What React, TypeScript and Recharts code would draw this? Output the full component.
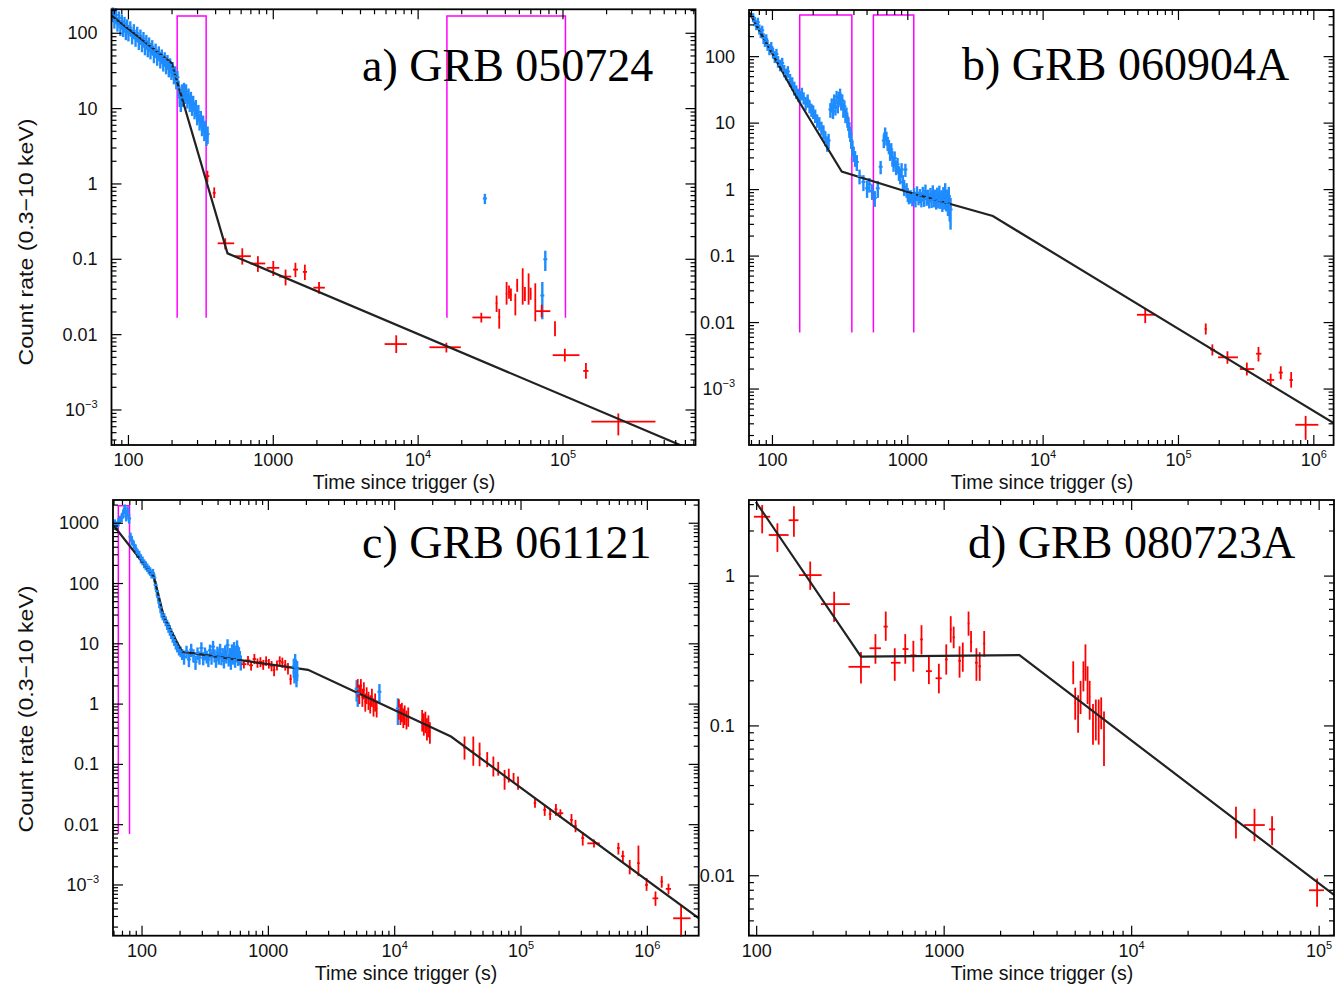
import { ComposedChart, XAxis, YAxis, Line, Scatter, ErrorBar } from 'recharts';

const BLUE = '#1e8cff';
const RED = '#ff0000';
const MAGENTA = '#ff00ff';
const MODEL = '#222222';
const SANS = '"Liberation Sans", Arial, sans-serif';
const SERIF = '"Liberation Serif", "Times New Roman", serif';

// ---- a) GRB 050724 ----
// model: [time, rate] at the break points
const modelA = [[76, 173], [199, 40], [483, 0.12], [7.0e5, 3.2e-4]];
// WT data: [time, rate, rate error]
const blueA = [
  [78, 180, 40], [80, 150, 35], [82, 175, 40], [84, 135, 30], [86, 160, 35], [88, 120, 28],
  [90, 145, 32], [92, 115, 26], [94, 135, 30], [96, 105, 24], [98, 125, 28], [100, 100, 22],
  [103, 118, 26], [106, 92, 21], [109, 108, 24], [112, 85, 19], [115, 100, 22], [118, 78, 18],
  [121, 92, 20], [124, 72, 16], [127, 85, 19], [130, 66, 15], [133, 78, 17], [136, 62, 14],
  [139, 72, 16], [142, 58, 13], [146, 66, 15], [150, 52, 12], [154, 60, 13], [158, 48, 11],
  [162, 55, 12], [166, 44, 10], [170, 50, 11], [174, 40, 9], [178, 46, 10], [182, 37, 8.5],
  [186, 42, 9.5], [190, 34, 8], [194, 38, 8.5], [198, 31, 7], [202, 34, 7.5], [206, 27, 6],
  [210, 30, 6.5], [214, 23, 5], [218, 26, 5.5], [222, 19, 4.5], [226, 14, 3.5], [230, 12, 3],
  [234, 17, 4], [238, 14, 3.5], [242, 18, 4], [246, 15, 3.5], [250, 17, 4], [255, 13, 3],
  [260, 15, 3.5], [265, 12, 3], [270, 13.5, 3.2], [275, 10.5, 2.5], [280, 12, 2.8], [286, 9.5, 2.3],
  [292, 10.5, 2.5], [298, 8, 2], [304, 9, 2.2], [310, 6.8, 1.7], [316, 7.5, 1.8], [322, 5.8, 1.5],
  [328, 6.5, 1.6], [334, 5, 1.3], [340, 5.5, 1.4], [346, 4.3, 1.1], [352, 4.6, 1.2],
  [28900, 0.64, 0.1], [72000, 0.033, 0.017], [75500, 0.1, 0.03],
];
// PC data: [time, time low, time high, rate, rate low, rate high]
const redA = [
  [351, 340, 362, 1.27, 1.05, 1.5], [391, 382, 400, 0.76, 0.65, 0.9],
  [466, 413, 537, 0.163, 0.135, 0.19], [611, 530, 700, 0.11, 0.085, 0.14],
  [783, 690, 880, 0.088, 0.068, 0.11], [1000, 900, 1100, 0.077, 0.06, 0.095],
  [1216, 1100, 1330, 0.059, 0.045, 0.073], [1422, 1370, 1480, 0.073, 0.058, 0.09],
  [1652, 1600, 1710, 0.068, 0.053, 0.085], [2070, 1890, 2270, 0.042, 0.035, 0.05],
  [7060, 5870, 8370, 0.0075, 0.0057, 0.0098], [15670, 11970, 19700, 0.0068, 0.0058, 0.0078],
  [27300, 23700, 31800, 0.0169, 0.0145, 0.0195], [34800, 34300, 35300, 0.026, 0.02, 0.033],
  [36300, 35800, 36800, 0.017, 0.012, 0.022], [40800, 40300, 41300, 0.035, 0.025, 0.05],
  [42400, 41900, 42900, 0.037, 0.03, 0.045], [43700, 43200, 44200, 0.034, 0.028, 0.041],
  [46900, 46400, 47400, 0.029, 0.018, 0.035], [48300, 47800, 48800, 0.045, 0.037, 0.055],
  [52700, 52200, 53200, 0.043, 0.025, 0.076], [54600, 54100, 55100, 0.035, 0.028, 0.043],
  [57900, 57400, 58400, 0.043, 0.025, 0.065], [59800, 59300, 60300, 0.035, 0.029, 0.042],
  [64400, 63900, 64900, 0.029, 0.015, 0.048], [71300, 64500, 81800, 0.0205, 0.017, 0.025],
  [88100, 87600, 88600, 0.0121, 0.0095, 0.015], [103000, 84900, 130000, 0.00534, 0.0044, 0.0065],
  [144000, 138000, 150000, 0.0033, 0.0026, 0.0042], [241000, 157000, 435000, 0.0007, 0.00046, 0.0009],
];
// magenta windows: [start, end]
const boxesA = [[217, 344], [15800, 104000]];
const boxLimitsA = [0.0167, 170];

// ---- b) GRB 060904A ----
const modelB = [[67, 470], [160, 19.9], [325, 1.87], [1000, 0.92], [4250, 0.4], [1.4e6, 3.07e-4]];
const blueB = [
  [72, 390, 60], [74, 340, 55], [76, 300, 50], [78, 330, 55], [80, 260, 45], [82, 230, 40],
  [84, 250, 42], [86, 190, 35], [88, 170, 30], [90, 185, 32], [92, 150, 28], [95, 130, 25],
  [98, 140, 26], [101, 115, 22], [104, 100, 20], [107, 110, 21], [110, 85, 17], [114, 75, 15],
  [118, 80, 16], [122, 62, 13], [126, 55, 11], [130, 60, 12], [135, 45, 10], [140, 40, 9],
  [145, 34, 8], [150, 30, 7], [155, 27, 6], [160, 25, 5.5], [165, 28, 6], [170, 24, 5],
  [176, 20, 4.5], [182, 22, 5], [188, 18, 4], [194, 16, 3.6], [200, 15, 3.5], [207, 13, 3],
  [214, 11, 2.5], [222, 10, 2.3], [230, 8.5, 2], [238, 7.5, 1.8], [246, 6, 1.5], [254, 5, 1.3],
  [260, 5.5, 1.4],
  [268, 16, 4], [274, 19, 4.5], [280, 15, 3.5], [286, 22, 5], [292, 17, 4], [298, 25, 5.5],
  [304, 18, 4], [310, 24, 5.5], [316, 27, 6], [322, 20, 4.5], [328, 22, 5], [334, 16, 4],
  [340, 18, 4], [346, 13, 3], [352, 14, 3.2], [358, 11, 2.5], [364, 10, 2.4], [370, 8, 2],
  [376, 7, 1.8], [382, 5.5, 1.4], [390, 4.3, 1.1], [398, 3.5, 0.9], [408, 3, 0.8], [420, 2.6, 0.7],
  [440, 1.6, 0.4], [470, 1.3, 0.35], [500, 1.05, 0.3], [520, 1.2, 0.3], [545, 0.95, 0.25],
  [570, 0.75, 0.2], [600, 1.05, 0.3], [630, 2.2, 0.5],
  [665, 5.5, 1.3], [680, 7, 1.6], [695, 6, 1.4], [710, 5, 1.2], [725, 4.5, 1.1], [740, 3.6, 0.9],
  [755, 4, 1], [770, 3, 0.8], [785, 2.5, 0.65], [800, 3, 0.75], [820, 2.2, 0.55], [840, 2.4, 0.6],
  [860, 1.8, 0.45], [880, 1.6, 0.4], [900, 2.0, 0.5], [920, 1.3, 0.35], [940, 1.1, 0.3],
  [960, 2.0, 0.45], [980, 1.0, 0.25], [1000, 0.85, 0.2], [1020, 0.78, 0.18],
  [1050, 0.8, 0.18], [1080, 0.72, 0.16], [1110, 0.85, 0.2], [1140, 0.7, 0.16], [1170, 0.9, 0.22],
  [1200, 0.75, 0.17], [1230, 0.82, 0.2], [1260, 0.7, 0.16], [1290, 0.88, 0.22], [1320, 0.72, 0.17],
  [1350, 0.95, 0.24], [1380, 0.75, 0.18], [1410, 0.8, 0.2], [1440, 0.68, 0.16], [1470, 0.85, 0.21],
  [1500, 0.7, 0.17], [1530, 0.92, 0.24], [1560, 0.72, 0.18], [1590, 0.8, 0.2], [1620, 0.66, 0.16],
  [1650, 0.85, 0.22], [1680, 0.7, 0.18], [1710, 0.9, 0.25], [1740, 0.68, 0.17], [1770, 0.78, 0.2],
  [1800, 0.62, 0.16], [1830, 0.85, 0.24], [1860, 0.7, 0.2], [1890, 0.95, 0.3], [1920, 0.65, 0.18],
  [1950, 0.75, 0.25], [1980, 0.6, 0.2], [2010, 0.8, 0.3], [2040, 0.55, 0.22], [2070, 0.5, 0.25],
];
const redB = [
  [56800, 49300, 67600, 0.0131, 0.0098, 0.0164], [159000, 156000, 162000, 0.008, 0.0066, 0.0097],
  [178000, 172000, 186000, 0.0039, 0.0032, 0.0047], [230000, 196000, 275000, 0.003, 0.0024, 0.0037],
  [320000, 284000, 363000, 0.002, 0.0016, 0.0025], [390000, 375000, 410000, 0.0034, 0.0026, 0.0043],
  [480000, 450000, 510000, 0.00137, 0.0011, 0.0017], [570000, 550000, 590000, 0.00177, 0.0014, 0.0022],
  [680000, 660000, 700000, 0.00137, 0.00105, 0.0018], [870000, 730000, 1080000, 2.9e-4, 1.72e-4, 3.95e-4],
];
const boxesB = [[159, 386], [557, 1107]];
const boxLimitsB = [0.0071, 424];

// ---- c) GRB 061121 ----
const modelC = [[60, 900], [124, 130], [148.6, 28.3], [207, 7.4], [2060, 3.7], [27900, 0.29], [2.56e6, 2.8e-4]];
const blueC = [
  [61, 1000, 160], [63, 900, 150], [65, 1050, 170], [67, 1150, 180], [69, 1250, 200], [71, 1450, 250],
  [73, 1750, 300], [75, 1300, 230], [77, 1600, 300], [79, 1200, 220],
  [81, 600, 100], [83, 520, 90], [86, 440, 75], [89, 380, 65], [92, 320, 55], [95, 300, 50],
  [98, 260, 45], [101, 240, 40], [104, 215, 36], [107, 200, 34], [110, 185, 30], [113, 170, 28],
  [116, 160, 26], [119, 145, 24], [122, 150, 25], [125, 125, 21], [128, 95, 16], [131, 75, 13],
  [134, 60, 10], [137, 48, 8.5], [140, 40, 7], [143, 33, 6], [146, 30, 5.5], [150, 27, 5],
  [154, 24, 4.5], [158, 21, 4], [162, 19, 3.8], [166, 17, 3.4], [170, 15, 3], [175, 13, 2.6],
  [180, 11.5, 2.3], [185, 10, 2], [190, 9, 1.8], [196, 8, 1.6], [202, 7.5, 1.5], [208, 6.8, 1.4],
  [215, 6, 1.5], [225, 7.5, 1.8], [235, 5.5, 1.4], [245, 8, 2], [255, 6.5, 1.6], [265, 5, 1.3],
  [275, 7, 1.7], [285, 6, 1.5], [295, 8.5, 2.1], [305, 5.8, 1.4], [315, 7, 1.7], [325, 6.2, 1.5],
  [335, 5.5, 1.4], [345, 7.8, 1.9], [355, 6, 1.5], [365, 9, 2.2], [375, 6.5, 1.6], [385, 5.3, 1.3],
  [395, 7.2, 1.8], [405, 6, 1.5], [415, 8, 2], [425, 5.8, 1.4], [435, 6.8, 1.7], [445, 5.2, 1.3],
  [455, 7.5, 1.9], [465, 6.2, 1.5], [475, 9.5, 2.4], [485, 5.6, 1.4], [495, 6.8, 1.7], [505, 5, 1.3],
  [515, 7.8, 2], [525, 6, 1.5], [535, 8.5, 2.2], [545, 5.4, 1.4], [555, 6.6, 1.7], [565, 9, 2.4],
  [575, 5.8, 1.5], [585, 7, 1.8], [595, 6, 1.6], [605, 5, 1.4],
  [1590, 4.2, 1.5], [1610, 3.4, 1.2], [1630, 5.0, 1.8], [1650, 4.0, 1.5], [1670, 3.0, 1.1],
  [1690, 3.8, 1.4], [5000, 1.8, 0.7], [5100, 1.5, 0.6], [7570, 1.6, 0.55], [10600, 0.85, 0.4],
];
const redC = [
  [640, 610, 670, 4.6, 3.9, 5.3], [690, 660, 720, 5.3, 4.4, 6.3], [730, 705, 755, 4.4, 3.6, 5.2],
  [775, 750, 800, 5.6, 4.6, 6.8], [820, 795, 845, 4.8, 4.0, 5.7], [865, 840, 890, 5.0, 4.1, 6.0],
  [910, 885, 935, 4.5, 3.7, 5.4], [960, 935, 985, 5.2, 4.3, 6.2], [1010, 985, 1035, 4.7, 3.9, 5.6],
  [1060, 1035, 1085, 4.3, 3.5, 5.2], [1110, 1085, 1135, 3.7, 2.9, 4.5], [1170, 1140, 1200, 4.4, 3.6, 5.3],
  [1230, 1200, 1260, 5.2, 4.3, 6.2], [1290, 1260, 1320, 4.9, 4.0, 5.9], [1360, 1330, 1390, 4.5, 3.6, 5.4],
  [1430, 1400, 1460, 3.9, 3.1, 4.8], [1500, 1470, 1530, 2.6, 2.1, 3.1],
  [5100, 5000, 5200, 1.9, 1.3, 2.6], [5250, 5150, 5350, 1.5, 1.0, 2.1], [5400, 5300, 5500, 2.0, 1.4, 2.6],
  [5550, 5450, 5650, 1.3, 0.9, 1.8], [5700, 5600, 5800, 1.7, 1.2, 2.3], [5850, 5750, 5950, 1.1, 0.75, 1.5],
  [6000, 5900, 6100, 1.4, 1.0, 1.9], [6200, 6100, 6300, 1.2, 0.8, 1.6], [6400, 6300, 6500, 1.0, 0.7, 1.4],
  [6600, 6500, 6700, 1.3, 0.9, 1.8], [6800, 6700, 6900, 0.9, 0.62, 1.25], [7000, 6900, 7100, 1.1, 0.75, 1.5],
  [7200, 7100, 7300, 0.85, 0.6, 1.15],
  [10800, 10600, 11000, 0.85, 0.55, 1.2], [11100, 10900, 11300, 0.7, 0.45, 1.0], [11400, 11200, 11600, 0.75, 0.5, 1.05],
  [11700, 11500, 11900, 0.6, 0.4, 0.85], [12000, 11800, 12200, 0.68, 0.45, 0.95], [12400, 12200, 12600, 0.55, 0.38, 0.78],
  [12800, 12600, 13000, 0.62, 0.42, 0.88],
  [16500, 16300, 16700, 0.55, 0.35, 0.8], [17000, 16800, 17200, 0.48, 0.3, 0.7], [17500, 17300, 17700, 0.52, 0.33, 0.75],
  [18000, 17800, 18200, 0.4, 0.25, 0.58], [18500, 18300, 18700, 0.45, 0.28, 0.65], [19000, 18800, 19200, 0.35, 0.22, 0.5],
  [35700, 35000, 36400, 0.19, 0.12, 0.29], [41900, 41200, 42600, 0.17, 0.095, 0.29], [47000, 46300, 47700, 0.15, 0.093, 0.23],
  [54000, 53300, 54700, 0.12, 0.09, 0.16], [60400, 59600, 61200, 0.092, 0.063, 0.135], [66000, 65200, 66800, 0.085, 0.065, 0.11],
  [74100, 73200, 75000, 0.057, 0.038, 0.081], [80000, 79000, 81000, 0.065, 0.05, 0.085], [87300, 86300, 88300, 0.06, 0.049, 0.072],
  [94700, 93700, 95700, 0.05, 0.038, 0.063],
  [129000, 126000, 132000, 0.0228, 0.019, 0.027], [154000, 150000, 158000, 0.0176, 0.014, 0.021],
  [170000, 166000, 174000, 0.015, 0.012, 0.018], [189000, 184000, 194000, 0.018, 0.014, 0.022],
  [205000, 194000, 216000, 0.0155, 0.013, 0.018], [251000, 245000, 257000, 0.012, 0.0095, 0.015],
  [270000, 264000, 276000, 0.0095, 0.0075, 0.012], [308000, 300000, 316000, 0.006, 0.0045, 0.0075],
  [378000, 335000, 420000, 0.0049, 0.0042, 0.0057], [590000, 575000, 605000, 0.0041, 0.0032, 0.005],
  [640000, 620000, 660000, 0.003, 0.0024, 0.0037], [725000, 705000, 745000, 0.002, 0.0015, 0.0026],
  [850000, 830000, 870000, 0.0023, 0.0014, 0.0045], [986000, 960000, 1010000, 0.001, 0.0008, 0.0013],
  [1160000, 1100000, 1220000, 6e-4, 4.5e-4, 7.8e-4], [1300000, 1270000, 1330000, 0.00114, 0.0009, 0.0014],
  [1470000, 1400000, 1540000, 8.6e-4, 7e-4, 1.05e-3], [1850000, 1600000, 2200000, 2.8e-4, 1.4e-4, 4.5e-4],
];
const boxesC = [[64.9, 79.6]];
const boxLimitsC = [0.007, 1958];

// ---- d) GRB 080723A ----
const modelD = [[99, 3.13], [360, 0.29], [2520, 0.297], [1.21e5, 0.0074]];
const redD = [
  [107, 96.6, 118, 2.49, 1.93, 2.98], [129, 116, 148, 1.88, 1.45, 2.25], [158, 148, 167, 2.36, 1.83, 2.93],
  [193, 168, 222, 1.015, 0.81, 1.25], [259, 220, 314, 0.65, 0.495, 0.786], [360, 309, 402, 0.248, 0.192, 0.312],
  [430, 400, 460, 0.33, 0.26, 0.41], [488, 475, 500, 0.46, 0.37, 0.58], [545, 520, 585, 0.264, 0.2, 0.33],
  [620, 600, 645, 0.326, 0.26, 0.41], [685, 660, 710, 0.296, 0.23, 0.37], [757, 745, 770, 0.378, 0.3, 0.47],
  [829, 800, 860, 0.232, 0.19, 0.29], [937, 900, 970, 0.208, 0.165, 0.26], [1026, 1010, 1045, 0.278, 0.22, 0.35],
  [1084, 1075, 1095, 0.44, 0.36, 0.54], [1124, 1110, 1140, 0.39, 0.33, 0.46], [1208, 1190, 1230, 0.272, 0.21, 0.34],
  [1257, 1240, 1275, 0.29, 0.23, 0.36], [1349, 1335, 1365, 0.483, 0.4, 0.58], [1391, 1375, 1410, 0.364, 0.31, 0.43],
  [1486, 1460, 1510, 0.264, 0.2, 0.33], [1547, 1525, 1570, 0.25, 0.2, 0.31], [1635, 1615, 1655, 0.355, 0.29, 0.43],
  [4880, 4840, 4920, 0.23, 0.19, 0.27], [5000, 4960, 5040, 0.141, 0.11, 0.18], [5180, 5140, 5220, 0.115, 0.09, 0.16],
  [5340, 5300, 5380, 0.165, 0.12, 0.2], [5530, 5490, 5570, 0.23, 0.17, 0.27], [5670, 5630, 5710, 0.29, 0.2, 0.35],
  [5820, 5780, 5860, 0.193, 0.14, 0.25], [5970, 5930, 6010, 0.156, 0.11, 0.2], [6220, 6180, 6260, 0.104, 0.075, 0.14],
  [6440, 6400, 6480, 0.11, 0.08, 0.15], [6670, 6630, 6710, 0.115, 0.075, 0.15], [6880, 6840, 6920, 0.128, 0.095, 0.155],
  [7120, 7080, 7160, 0.085, 0.054, 0.125],
  [36000, 35500, 36500, 0.0226, 0.0177, 0.0289], [45200, 39800, 51300, 0.0218, 0.017, 0.028],
  [56100, 54000, 58200, 0.0204, 0.016, 0.025], [97500, 88300, 106000, 0.008, 0.0062, 0.0096],
];

// ---------- helpers ----------
const linePts = (rows: number[][]) => rows.map(([t, r]) => ({ t, r }));
const bluePts = (rows: number[][]) => rows.map(([t, r, dr]) => ({ t, r, ey: dr }));
const redPts = (rows: number[][]) =>
  rows.map(([t, tLo, tHi, r, rLo, rHi]) => ({ t, r, ex: [t - tLo, tHi - t], ey: [r - rLo, rHi - r] }));
const boxPts = ([t1, t2]: number[], [lo, hi]: number[]) => [
  { t: t1, r: lo }, { t: t1, r: hi }, { t: t2, r: hi }, { t: t2, r: lo },
];

function logTicks([lo, hi]: number[]) {
  const out: number[] = [];
  for (let e = Math.floor(Math.log10(lo)); e <= Math.ceil(Math.log10(hi)); e++) {
    for (let k = 1; k <= 9; k++) {
      const v = k * Math.pow(10, e);
      if (v >= lo && v <= hi) out.push(v);
    }
  }
  return out;
}

const isDecade = (v: number) => {
  const e = Math.log10(v);
  return Math.abs(e - Math.round(e)) < 1e-6;
};

function TickLabel({ x, y, v, anchor }: { x: number; y: number; v: number; anchor: string }) {
  const e = Math.round(Math.log10(v));
  const common = { x, y, textAnchor: anchor as any, fontFamily: SANS, fontSize: 18, fill: '#111' };
  if (e >= 4 || e <= -3) {
    return (
      <text {...common}>
        10<tspan dy={-8} fontSize={11}>{e < 0 ? '\u2212' + -e : String(e)}</tspan>
      </text>
    );
  }
  const s = e >= 0 ? String(Math.pow(10, e)) : e === -1 ? '0.1' : '0.01';
  return <text {...common}>{s}</text>;
}

const xTick = (top: number) => (props: any) => {
  const { x, y, payload } = props;
  const major = isDecade(payload.value);
  const len = major ? 10 : 5;
  return (
    <g>
      <line x1={x} x2={x} y1={y} y2={y - len} stroke="#000" strokeWidth={1.2} />
      <line x1={x} x2={x} y1={top} y2={top + len} stroke="#000" strokeWidth={1.2} />
      {major && <TickLabel x={x} y={y + 21} v={payload.value} anchor="middle" />}
    </g>
  );
};

const yTick = (right: number) => (props: any) => {
  const { x, y, payload } = props;
  const major = isDecade(payload.value);
  const len = major ? 10 : 5;
  return (
    <g>
      <line x1={x} x2={x + len} y1={y} y2={y} stroke="#000" strokeWidth={1.2} />
      <line x1={right} x2={right - len} y1={y} y2={y} stroke="#000" strokeWidth={1.2} />
      {major && <TickLabel x={x - 14} y={y + 6} v={payload.value} anchor="end" />}
    </g>
  );
};

const blueShape = (p: any) => (
  <line x1={p.cx - 2} x2={p.cx + 2} y1={p.cy} y2={p.cy} stroke={BLUE} strokeWidth={2} />
);
const noShape = () => <g />;

const panels = [
  {
    key: 'a', left: 0, top: 0, width: 700, height: 495,
    margin: { top: 9.3, right: 4.5, bottom: 50, left: 111.5 },
    xDomain: [76.4, 8.22e5], yDomain: [3.43e-4, 208],
    model: modelA, blue: blueA, red: redA, boxes: boxesA, limits: boxLimitsA,
  },
  {
    key: 'b', left: 690, top: 0, width: 646, height: 495,
    margin: { top: 10, right: 2.4, bottom: 50, left: 59 },
    xDomain: [67.1, 1.4e6], yDomain: [1.44e-4, 503],
    model: modelB, blue: blueB, red: redB, boxes: boxesB, limits: boxLimitsB,
  },
  {
    key: 'c', left: 0, top: 495, width: 700, height: 492,
    margin: { top: 5, right: 1.3, bottom: 51.3, left: 113 },
    xDomain: [58.9, 2.55e6], yDomain: [1.44e-4, 2430],
    model: modelC, blue: blueC, red: redC, boxes: boxesC, limits: boxLimitsC,
  },
  {
    key: 'd', left: 690, top: 495, width: 646, height: 492,
    margin: { top: 5, right: 2, bottom: 51.3, left: 58.9 },
    xDomain: [90.9, 1.2e5], yDomain: [0.00398, 3.22],
    model: modelD, blue: [], red: redD, boxes: [], limits: [1, 1],
  },
];

function Panel({ p }: { p: any }) {
  const right = p.width - p.margin.right;
  // the axes take the bottom / left margins as their own space
  const chartMargin = { top: p.margin.top, right: p.margin.right, bottom: 0, left: 0 };
  return (
    <div style={{ position: 'absolute', left: p.left, top: p.top }}>
      <ComposedChart width={p.width} height={p.height} margin={chartMargin}>
        <XAxis
          type="number" dataKey="t" scale="log" domain={p.xDomain} allowDataOverflow
          ticks={logTicks(p.xDomain)} interval={0} height={p.margin.bottom} tickSize={0} tickMargin={0}
          tickLine={false} axisLine={false} tick={xTick(p.margin.top)}
        />
        <YAxis
          type="number" dataKey="r" scale="log" domain={p.yDomain} allowDataOverflow
          ticks={logTicks(p.yDomain)} interval={0} width={p.margin.left} tickSize={0} tickMargin={0}
          tickLine={false} axisLine={false} tick={yTick(right)}
        />
        {p.boxes.map((b: number[], i: number) => (
          <Line key={`box-${i}`} data={boxPts(b, p.limits)} dataKey="r" stroke={MAGENTA}
            strokeWidth={1.5} dot={false} isAnimationActive={false} />
        ))}
        {p.blue.length > 0 && (
          <Scatter data={bluePts(p.blue)} shape={blueShape} isAnimationActive={false}>
            <ErrorBar dataKey="ey" direction="y" width={0} stroke={BLUE} strokeWidth={2.4} isAnimationActive={false} />
          </Scatter>
        )}
        <Scatter data={redPts(p.red)} shape={noShape} isAnimationActive={false}>
          <ErrorBar dataKey="ex" direction="x" width={0} stroke={RED} strokeWidth={1.8} isAnimationActive={false} />
          <ErrorBar dataKey="ey" direction="y" width={0} stroke={RED} strokeWidth={1.8} isAnimationActive={false} />
        </Scatter>
        <Line data={linePts(p.model)} dataKey="r" stroke={MODEL} strokeWidth={2.2}
          dot={false} isAnimationActive={false} />
      </ComposedChart>
    </div>
  );
}

const titles = [
  { text: 'a) GRB 050724', x: 362, y: 81 },
  { text: 'b) GRB 060904A', x: 962, y: 80 },
  { text: 'c) GRB 061121', x: 362, y: 558 },
  { text: 'd) GRB 080723A', x: 968, y: 558 },
];
const xTitles = [
  { x: 404, y: 489 }, { x: 1042, y: 489 }, { x: 406, y: 980 }, { x: 1042, y: 980 },
];
const yTitles = [{ x: 33, y: 242 }, { x: 33, y: 709 }];

export default function App() {
  return (
    <div style={{ position: 'absolute', left: 0, top: 0, width: 1336, height: 987, background: '#fff' }}>
      {panels.map((p) => <Panel key={p.key} p={p} />)}
      <svg width={1336} height={987} style={{ position: 'absolute', left: 0, top: 0, pointerEvents: 'none' }}>
        {panels.map((p) => (
          <rect
            key={`frame-${p.key}`}
            x={p.left + p.margin.left}
            y={p.top + p.margin.top}
            width={p.width - p.margin.left - p.margin.right}
            height={p.height - p.margin.top - p.margin.bottom}
            fill="none" stroke="#000" strokeWidth={1.8}
          />
        ))}
        {titles.map((t) => (
          <text key={t.text} x={t.x} y={t.y} fontFamily={SERIF} fontSize={46} fill="#000">{t.text}</text>
        ))}
        {xTitles.map((t, i) => (
          <text key={`xt-${i}`} x={t.x} y={t.y} textAnchor="middle" fontFamily={SANS} fontSize={19.5} fill="#111">
            Time since trigger (s)
          </text>
        ))}
        {yTitles.map((t, i) => (
          <text key={`yt-${i}`} transform={`translate(${t.x},${t.y}) rotate(-90) scale(1.1,1)`} textAnchor="middle"
            fontFamily={SANS} fontSize={21} fill="#111">
            Count rate (0.3{'\u2212'}10 keV)
          </text>
        ))}
      </svg>
    </div>
  );
}
